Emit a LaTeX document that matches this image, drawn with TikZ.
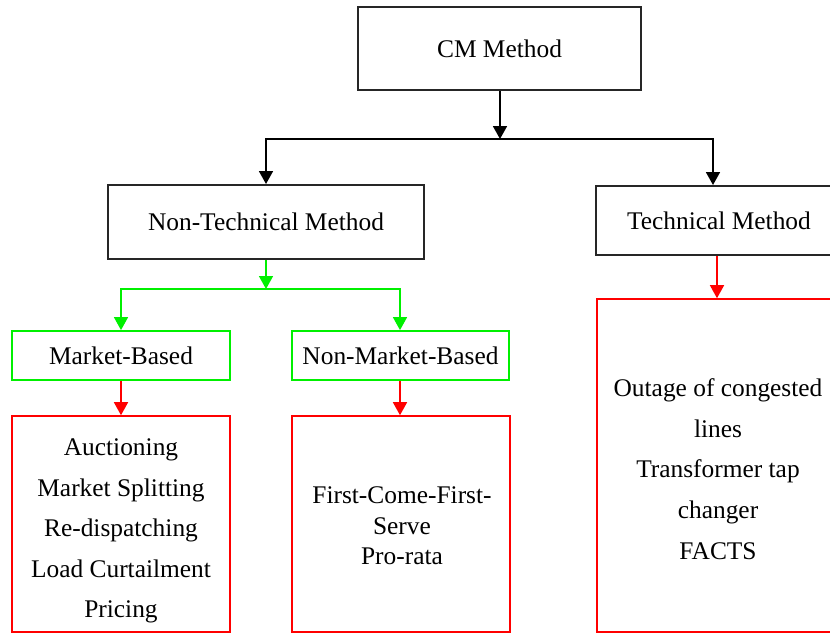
\documentclass[tikz,border=0pt]{standalone}
\usepackage{fontspec}
\setmainfont{Liberation Serif}
\usetikzlibrary{arrows.meta}
\definecolor{grn}{RGB}{0,240,0}
\definecolor{rd}{RGB}{255,0,0}
\tikzset{
  base/.style={rectangle, inner sep=0pt, align=center,
    font=\fontsize{25.4}{40.6}\selectfont},
  blackbox/.style={base, draw=black!85, line width=2pt},
  greenbox/.style={base, draw=grn, line width=1.8pt},
  redbox/.style={base, draw=rd, line width=1.6pt},
  tip/.style={-{Triangle[width=14pt,length=13pt]}},
  blkline/.style={draw=black, line width=1.8pt},
  grnline/.style={draw=grn, line width=1.6pt},
  redline/.style={draw=rd, line width=1.5pt},
  listtext/.style={align=center, inner sep=0pt, font=\fontsize{25.4}{40.6}\selectfont},
}
\begin{document}
\begin{tikzpicture}[x=1pt, y=-1pt]
  \useasboundingbox (0,0) rectangle (830,633);
  \clip (0,0) rectangle (830,633);

  % top level
  \node[blackbox, minimum width=283pt, minimum height=83pt] (cm) at (499.5,48.5) {CM Method};

  % second level
  \node[blackbox, minimum width=316pt, minimum height=74pt] (nontech) at (266,222) {Non-Technical Method};
  \node[blackbox, minimum width=246pt, minimum height=69pt] (tech) at (719,220.5) {Technical Method};

  % third level
  \node[greenbox, minimum width=218pt, minimum height=49pt] (mb) at (121,355.5) {Market-Based};
  \node[greenbox, minimum width=217pt, minimum height=49pt] (nmb) at (400.5,355.5) {Non-Market-Based};

  % method lists
  \node[redbox, minimum width=218pt, minimum height=216pt] (mblist) at (121,524) {};
  \node[listtext] (mbtext) at (121,531) {Auctioning\\Market Splitting\\Re-dispatching\\Load Curtailment\\Pricing};
  \node[redbox, minimum width=218pt, minimum height=216pt] (nmblist) at (401,524) {};
  \node[listtext, font=\fontsize{25.4}{30.5}\selectfont] (nmbtext) at (402,526) {First-Come-First-\\Serve\\Pro-rata};
  \node[redbox, minimum width=245pt, minimum height=333pt] (techlist) at (719.5,465.5) {};
  \node[listtext] (techtext) at (718,469) {Outage of congested\\lines\\Transformer tap\\changer\\FACTS};

  % branch points
  \coordinate (j1) at (500,139);
  \coordinate (j2) at (266,289);

  % black connectors
  \draw[blkline, tip] (cm.south -| j1) -- (j1);
  \draw[blkline, tip] (j1) -| (nontech.north);
  \draw[blkline, tip] (j1) -| ([xshift=-6pt]tech.north);

  % green connectors
  \draw[grnline, tip] (nontech.south) -- (j2);
  \draw[grnline, tip] (j2) -| (mb.north);
  \draw[grnline, tip] (j2) -| ([xshift=-0.5pt]nmb.north);

  % red connectors
  \draw[redline, tip] (mb.south) -- (mblist.north);
  \draw[redline, tip] ([xshift=-0.5pt]nmb.south) -- ([xshift=-1pt]nmblist.north);
  \draw[redline, tip] ([xshift=-2pt]tech.south) -- ([xshift=-2.5pt]techlist.north);
\end{tikzpicture}
\end{document}
